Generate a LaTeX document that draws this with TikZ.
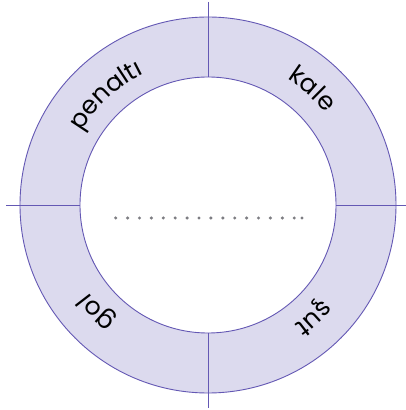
\documentclass[tikz,border=0pt]{standalone}
\usepackage{fontspec}
\setmainfont{Poppins}
\usetikzlibrary{decorations.text}
\definecolor{ringfill}{RGB}{220,218,238}
\definecolor{ringline}{RGB}{100,88,180}
\definecolor{dotgrey}{RGB}{125,125,130}
\tikzset{
  ringstroke/.style={draw=ringline, line width=0.9pt},
  ringtext/.style={decorate, decoration={text along path, text align=center, text={|\fontsize{25}{30}\selectfont|#1}}},
}
\begin{document}
\begin{tikzpicture}[x=1pt,y=1pt]
\useasboundingbox[fill=white] (0,0) rectangle (406,410);
\coordinate (c) at (208,205);
% ring
\fill[ringfill, even odd rule] (c) circle[radius=188] (c) circle[radius=128];
\draw[ringstroke] (c) circle[radius=188];
\draw[ringstroke] (c) circle[radius=128];
% dividers
\draw[ringstroke] (6,205) -- (80,205);
\draw[ringstroke] (336,205) -- (406,205);
\draw[ringstroke] (208,408) -- (208,333);
\draw[ringstroke] (208,77) -- (208,2);
% labels
\path[ringtext={penaltı}] (c) ++(173:146) arc[start angle=173, end angle=93, radius=146];
\path[ringtext={kale}] (c) ++(88:149) arc[start angle=88, end angle=8, radius=149];
\path[ringtext={şut}] (c) ++(-7:148) arc[start angle=-7, end angle=-87, radius=148];
\path[ringtext={gol}] (c) ++(264:148) arc[start angle=264, end angle=184, radius=148];
% dots
\foreach \x in {115.7,127.6,...,295} \fill[dotgrey] (\x,192) circle[radius=1.7];
\fill[dotgrey] (302,192) circle[radius=1.7];
\end{tikzpicture}
\end{document}
